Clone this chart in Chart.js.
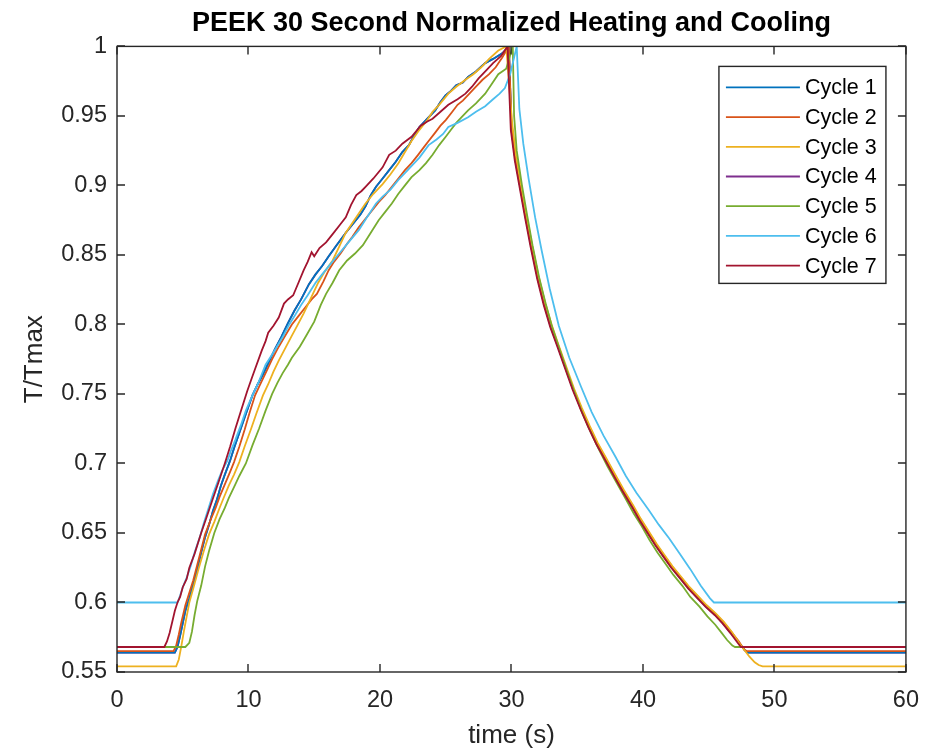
<!DOCTYPE html>
<html>
<head>
<meta charset="utf-8">
<script src="https://cdn.jsdelivr.net/npm/chart.js@4.4.1/dist/chart.umd.min.js"></script>
<style>
  body { margin: 0; background: #fff; }
</style>
</head>
<body>
<canvas id="peekChart" width="933" height="754"></canvas>
<script>
const cycleNames = ['Cycle 1', 'Cycle 2', 'Cycle 3', 'Cycle 4', 'Cycle 5', 'Cycle 6', 'Cycle 7'];
const cycleColors = ['#0072BD', '#D95319', '#EDB120', '#7E2F8E', '#77AC30', '#4DBEEE', '#A2142F'];

const xTicks = [0, 10, 20, 30, 40, 50, 60];
const xTickLabels = ['0', '10', '20', '30', '40', '50', '60'];
const yTicks = [0.55, 0.6, 0.65, 0.7, 0.75, 0.8, 0.85, 0.9, 0.95, 1];
const yTickLabels = ['0.55', '0.6', '0.65', '0.7', '0.75', '0.8', '0.85', '0.9', '0.95', '1'];

// [time (s), T/Tmax]
const cycle1 = [[0,0.564],[4.4,0.564],[4.6,0.568],[4.8,0.576],[5.0,0.585],[5.2,0.594],[5.5,0.603],[5.8,0.613],[6.1,0.624],[6.4,0.636],[6.7,0.647],[7.0,0.656],[7.3,0.666],[7.6,0.674],[7.9,0.684],[8.2,0.692],[8.6,0.702],[8.9,0.711],[9.3,0.722],[9.7,0.733],[10.0,0.741],[10.3,0.749],[10.7,0.757],[11.1,0.764],[11.6,0.774],[12.0,0.782],[12.5,0.791],[13.0,0.801],[13.5,0.810],[14.0,0.818],[14.6,0.829],[15.1,0.836],[15.6,0.842],[16.1,0.849],[16.7,0.857],[17.4,0.866],[18.0,0.873],[18.5,0.879],[18.9,0.885],[19.3,0.893],[19.7,0.899],[20.2,0.905],[20.7,0.911],[21.2,0.917],[21.7,0.924],[22.2,0.929],[22.6,0.936],[23.0,0.942],[23.6,0.948],[24.2,0.954],[24.6,0.960],[25.0,0.965],[25.4,0.968],[25.8,0.972],[26.3,0.974],[26.7,0.978],[27.3,0.982],[28.0,0.988],[28.6,0.991],[29.3,0.995],[29.8,1.0],
  [30.0,0.940],[30.3,0.918],[30.7,0.897],[31.1,0.876],[31.5,0.856],[32.0,0.833],[32.5,0.814],[33.0,0.798],[33.5,0.785],[34.1,0.769],[34.7,0.753],[35.3,0.739],[35.9,0.726],[36.5,0.714],[37.2,0.702],[37.9,0.690],[38.5,0.680],[39.2,0.669],[39.8,0.659],[40.4,0.650],[41.0,0.641],[41.6,0.633],[42.2,0.625],[42.9,0.617],[43.5,0.610],[44.2,0.603],[44.8,0.597],[45.5,0.591],[46.1,0.585],[46.7,0.578],[47.3,0.571],[47.8,0.565],[48.0,0.564],[60,0.564]];

const cycle2 = [[0,0.565],[4.3,0.565],[4.5,0.569],[4.7,0.577],[4.9,0.586],[5.2,0.598],[5.5,0.607],[5.8,0.616],[6.1,0.627],[6.4,0.638],[6.7,0.649],[7.1,0.659],[7.5,0.668],[7.8,0.676],[8.2,0.685],[8.6,0.694],[8.9,0.701],[9.3,0.712],[9.7,0.724],[10.1,0.737],[10.5,0.749],[10.9,0.757],[11.4,0.767],[11.8,0.775],[12.3,0.784],[12.8,0.792],[13.3,0.800],[13.8,0.806],[14.3,0.812],[14.8,0.818],[15.2,0.822],[15.7,0.831],[16.1,0.839],[16.5,0.845],[17.0,0.851],[17.5,0.858],[17.9,0.863],[18.4,0.870],[18.9,0.876],[19.4,0.882],[19.9,0.888],[20.4,0.893],[20.9,0.899],[21.4,0.905],[21.9,0.911],[22.4,0.916],[22.9,0.922],[23.3,0.927],[23.7,0.932],[24.2,0.938],[24.6,0.943],[25.0,0.947],[25.5,0.953],[25.9,0.958],[26.3,0.961],[26.8,0.966],[27.3,0.971],[27.8,0.976],[28.3,0.980],[28.8,0.985],[29.3,0.992],[29.8,1.0],
  [30.0,0.945],[30.3,0.921],[30.7,0.899],[31.1,0.878],[31.5,0.858],[32.0,0.835],[32.5,0.816],[33.0,0.800],[33.5,0.786],[34.1,0.770],[34.7,0.754],[35.3,0.740],[35.9,0.727],[36.5,0.715],[37.2,0.703],[37.9,0.691],[38.5,0.681],[39.2,0.670],[39.8,0.660],[40.4,0.651],[41.0,0.642],[41.6,0.634],[42.2,0.626],[42.9,0.618],[43.5,0.611],[44.2,0.604],[44.8,0.598],[45.5,0.592],[46.1,0.586],[46.7,0.579],[47.3,0.572],[47.7,0.566],[47.9,0.565],[60,0.565]];

const cycle3 = [[0,0.554],[4.5,0.554],[4.7,0.559],[4.9,0.569],[5.1,0.580],[5.3,0.590],[5.5,0.600],[5.8,0.610],[6.2,0.624],[6.6,0.637],[7.0,0.649],[7.4,0.658],[7.8,0.668],[8.1,0.675],[8.5,0.684],[8.9,0.692],[9.3,0.701],[9.7,0.712],[10.2,0.725],[10.6,0.736],[11.1,0.749],[11.5,0.757],[11.9,0.766],[12.3,0.774],[12.8,0.783],[13.3,0.792],[13.7,0.799],[14.2,0.808],[14.8,0.820],[15.3,0.830],[15.8,0.838],[16.4,0.846],[16.9,0.856],[17.4,0.866],[17.9,0.873],[18.4,0.880],[18.9,0.887],[19.5,0.894],[20.2,0.901],[20.8,0.908],[21.4,0.916],[21.9,0.924],[22.4,0.932],[23.0,0.940],[23.6,0.947],[24.0,0.953],[24.5,0.958],[25.2,0.966],[25.8,0.971],[26.5,0.976],[27.1,0.980],[27.7,0.985],[28.3,0.991],[29.0,0.997],[29.6,1.0],
  [30.05,0.945],[30.35,0.921],[30.75,0.899],[31.15,0.878],[31.55,0.858],[32.05,0.835],[32.55,0.816],[33.05,0.800],[33.55,0.786],[34.15,0.770],[34.75,0.754],[35.35,0.740],[35.95,0.727],[36.55,0.715],[37.25,0.703],[37.95,0.691],[38.55,0.681],[39.25,0.670],[39.85,0.660],[40.45,0.651],[41.05,0.642],[41.65,0.634],[42.25,0.626],[42.95,0.618],[43.55,0.611],[44.25,0.604],[44.85,0.598],[45.55,0.592],[46.15,0.586],[46.75,0.579],[47.3,0.571],[47.7,0.566],[48.1,0.561],[48.5,0.557],[48.8,0.555],[49.1,0.554],[60,0.554]];

// cycle 4 lies under cycle 1 in the figure
const cycle4 = cycle1;

const cycle5 = [[0,0.568],[5.2,0.568],[5.5,0.571],[5.7,0.579],[5.9,0.591],[6.1,0.601],[6.4,0.612],[6.7,0.626],[7.0,0.637],[7.4,0.650],[7.8,0.660],[8.2,0.668],[8.5,0.675],[8.9,0.683],[9.3,0.691],[9.8,0.700],[10.3,0.713],[10.8,0.725],[11.3,0.738],[11.8,0.750],[12.2,0.758],[12.6,0.765],[13.0,0.771],[13.3,0.776],[13.9,0.784],[14.4,0.792],[15.0,0.802],[15.5,0.814],[15.9,0.822],[16.4,0.830],[16.9,0.839],[17.5,0.846],[18.1,0.851],[18.7,0.857],[19.3,0.866],[19.9,0.875],[20.4,0.881],[20.9,0.887],[21.4,0.894],[21.9,0.900],[22.4,0.906],[23.0,0.911],[23.5,0.916],[24.0,0.922],[24.5,0.929],[25.0,0.935],[25.4,0.940],[25.8,0.945],[26.3,0.950],[26.7,0.954],[27.3,0.959],[28.0,0.966],[28.5,0.973],[29.0,0.980],[29.6,0.984],[30.1,1.0],
  [30.2,0.950],[30.4,0.925],[30.8,0.900],[31.2,0.878],[31.6,0.857],[32.1,0.834],[32.6,0.815],[33.1,0.798],[33.6,0.784],[34.2,0.767],[34.8,0.751],[35.4,0.736],[36.0,0.723],[36.6,0.711],[37.3,0.698],[38.0,0.686],[38.6,0.676],[39.3,0.664],[39.9,0.655],[40.5,0.645],[41.1,0.636],[41.7,0.628],[42.3,0.620],[43.0,0.612],[43.6,0.604],[44.3,0.597],[44.9,0.590],[45.5,0.584],[46.0,0.578],[46.4,0.573],[46.8,0.569],[47.0,0.568],[60,0.568]];

const cycle6 = [[0,0.600],[4.6,0.600],[4.8,0.605],[5.0,0.611],[5.3,0.618],[5.6,0.626],[5.9,0.636],[6.3,0.647],[6.6,0.657],[6.9,0.666],[7.3,0.678],[7.7,0.688],[8.0,0.695],[8.4,0.702],[8.7,0.710],[9.0,0.717],[9.4,0.727],[9.8,0.738],[10.3,0.749],[10.7,0.757],[11.0,0.764],[11.3,0.771],[11.7,0.777],[12.1,0.783],[12.6,0.791],[13.1,0.800],[13.5,0.806],[14.0,0.814],[14.5,0.821],[15.1,0.830],[15.6,0.836],[16.2,0.843],[16.9,0.851],[17.6,0.859],[18.4,0.868],[19.0,0.877],[19.7,0.887],[20.2,0.892],[20.8,0.897],[21.4,0.904],[22.0,0.910],[22.5,0.915],[23.0,0.920],[23.7,0.929],[24.3,0.933],[24.8,0.937],[25.2,0.942],[25.9,0.945],[26.7,0.949],[27.3,0.953],[28.0,0.957],[28.6,0.962],[29.1,0.966],[29.5,0.970],[29.9,0.980],[30.2,0.992],[30.4,1.0],
  [30.6,0.955],[30.9,0.930],[31.3,0.905],[31.8,0.877],[32.3,0.853],[32.9,0.826],[33.6,0.799],[34.4,0.776],[35.3,0.755],[36.1,0.737],[37.0,0.720],[37.9,0.705],[38.7,0.691],[39.5,0.679],[40.4,0.667],[41.2,0.656],[42.0,0.646],[42.8,0.635],[43.6,0.624],[44.4,0.612],[45.1,0.603],[45.4,0.600],[60,0.600]];

const cycle7 = [[0,0.568],[3.6,0.568],[3.8,0.572],[4.0,0.578],[4.2,0.586],[4.4,0.594],[4.6,0.600],[4.8,0.604],[5.0,0.611],[5.3,0.617],[5.5,0.625],[5.9,0.635],[6.4,0.650],[6.8,0.661],[7.3,0.675],[7.7,0.686],[8.2,0.700],[8.6,0.712],[9.0,0.725],[9.4,0.737],[9.9,0.752],[10.2,0.760],[10.5,0.768],[11.0,0.781],[11.3,0.788],[11.5,0.794],[11.9,0.799],[12.3,0.805],[12.7,0.815],[13.0,0.818],[13.4,0.821],[13.8,0.830],[14.2,0.839],[14.5,0.845],[14.8,0.852],[15.0,0.849],[15.4,0.855],[15.9,0.859],[16.4,0.865],[16.9,0.871],[17.4,0.877],[17.8,0.886],[18.2,0.893],[18.6,0.896],[18.9,0.899],[19.5,0.905],[20.2,0.913],[20.7,0.922],[21.2,0.925],[21.7,0.930],[22.4,0.935],[23.1,0.943],[23.6,0.946],[24.0,0.948],[24.6,0.953],[25.2,0.958],[25.9,0.962],[26.5,0.966],[27.0,0.971],[27.5,0.977],[28.1,0.983],[28.6,0.988],[29.2,0.993],[29.7,1.0],
  [29.95,0.940],[30.25,0.918],[30.65,0.897],[31.05,0.876],[31.45,0.856],[31.95,0.833],[32.45,0.814],[32.95,0.798],[33.45,0.785],[34.05,0.769],[34.65,0.753],[35.25,0.739],[35.85,0.726],[36.45,0.714],[37.15,0.702],[37.85,0.690],[38.45,0.680],[39.15,0.669],[39.75,0.659],[40.35,0.650],[40.95,0.641],[41.55,0.633],[42.15,0.625],[42.85,0.617],[43.45,0.610],[44.15,0.603],[44.75,0.597],[45.45,0.591],[46.05,0.585],[46.65,0.578],[47.2,0.571],[47.45,0.568],[60,0.568]];

const cycles = [cycle1, cycle2, cycle3, cycle4, cycle5, cycle6, cycle7];
// matlab draws later lines on top; cycle 4 sits under cycle 1
const drawOrder = [6, 5, 4, 7, 2, 1, 0];

Chart.defaults.font.family = "'Liberation Sans', Arial, Helvetica, sans-serif";

const axesBox = {
    id: 'axesBox',
    afterDatasetsDraw(chart) {
        const { ctx, chartArea: a, scales: { x, y } } = chart;
        ctx.save();
        ctx.strokeStyle = '#262626';
        ctx.lineWidth = 1.4;
        ctx.beginPath();
        x.ticks.forEach(t => {
            const px = Math.round(x.getPixelForValue(t.value));
            ctx.moveTo(px, a.bottom); ctx.lineTo(px, a.bottom - 8);
            ctx.moveTo(px, a.top); ctx.lineTo(px, a.top + 8);
        });
        y.ticks.forEach(t => {
            const py = Math.round(y.getPixelForValue(t.value));
            ctx.moveTo(a.left, py); ctx.lineTo(a.left + 8, py);
            ctx.moveTo(a.right, py); ctx.lineTo(a.right - 8, py);
        });
        ctx.stroke();
        ctx.strokeRect(a.left, a.top, a.right - a.left, a.bottom - a.top);
        ctx.restore();
    }
};

const boxLegend = {
    id: 'boxLegend',
    afterDraw(chart) {
        const { ctx, chartArea: a } = chart;
        const w = 167, h = 217, rowH = 29.7;
        const left = a.right - 20 - w, top = a.top + 20;
        ctx.save();
        ctx.fillStyle = '#fff';
        ctx.fillRect(left, top, w, h);
        ctx.strokeStyle = '#262626';
        ctx.lineWidth = 1.4;
        ctx.strokeRect(left, top, w, h);
        ctx.font = "21.5px 'Liberation Sans', Arial, sans-serif";
        ctx.textBaseline = 'middle';
        ctx.fillStyle = '#000';
        chart.data.datasets.forEach((ds, i) => {
            const ry = top + 21 + i * rowH;
            ctx.strokeStyle = ds.borderColor;
            ctx.lineWidth = 1.8;
            ctx.beginPath();
            ctx.moveTo(left + 7, ry);
            ctx.lineTo(left + 81, ry);
            ctx.stroke();
            ctx.fillText(ds.label, left + 86, ry + 1);
        });
        ctx.restore();
    }
};

const ctx = document.getElementById('peekChart').getContext('2d');
const peekChart = new Chart(ctx, {
    type: 'line',
    data: {
        datasets: cycles.map((pts, i) => ({
            label: cycleNames[i],
            data: pts.map(([t, v]) => ({ x: t, y: v })),
            borderColor: cycleColors[i],
            backgroundColor: cycleColors[i],
            borderWidth: 1.8,
            pointRadius: 0,
            tension: 0,
            fill: false,
            order: drawOrder[i]
        }))
    },
    options: {
        responsive: false,
        animation: false,
        devicePixelRatio: 1,
        layout: {
            padding: { right: 24 }
        },
        scales: {
            x: {
                type: 'linear',
                min: 0,
                max: 60,
                grid: { display: false, drawTicks: false },
                border: { display: false },
                afterBuildTicks: s => { s.ticks = xTicks.map(v => ({ value: v })); },
                ticks: {
                    callback: (v, i) => xTickLabels[i],
                    color: '#262626',
                    font: { size: 23.5 },
                    padding: 14,
                    maxRotation: 0,
                    autoSkip: false
                },
                title: {
                    display: true,
                    text: 'time (s)',
                    color: '#262626',
                    font: { size: 26 },
                    padding: { top: 0, bottom: 3 }
                },
                afterFit: s => { s.height = 82; }
            },
            y: {
                type: 'linear',
                min: 0.55,
                max: 1,
                grid: { display: false, drawTicks: false },
                border: { display: false },
                afterBuildTicks: s => { s.ticks = yTicks.map(v => ({ value: v })); },
                ticks: {
                    callback: (v, i) => yTickLabels[i],
                    color: '#262626',
                    font: { size: 23.5 },
                    padding: 10,
                    autoSkip: false
                },
                title: {
                    display: true,
                    text: 'T/Tmax',
                    color: '#262626',
                    font: { size: 26 },
                    padding: { top: 19, bottom: 0 }
                },
                afterFit: s => { s.width = 117; }
            }
        },
        plugins: {
            legend: { display: false },
            tooltip: { enabled: false },
            title: {
                display: true,
                text: 'PEEK 30 Second Normalized Heating and Cooling',
                color: '#000',
                font: { size: 27, weight: 'bold' },
                padding: { top: 7, bottom: 7 },
                fullSize: false
            }
        }
    },
    plugins: [axesBox, boxLegend]
});
</script>
</body>
</html>
